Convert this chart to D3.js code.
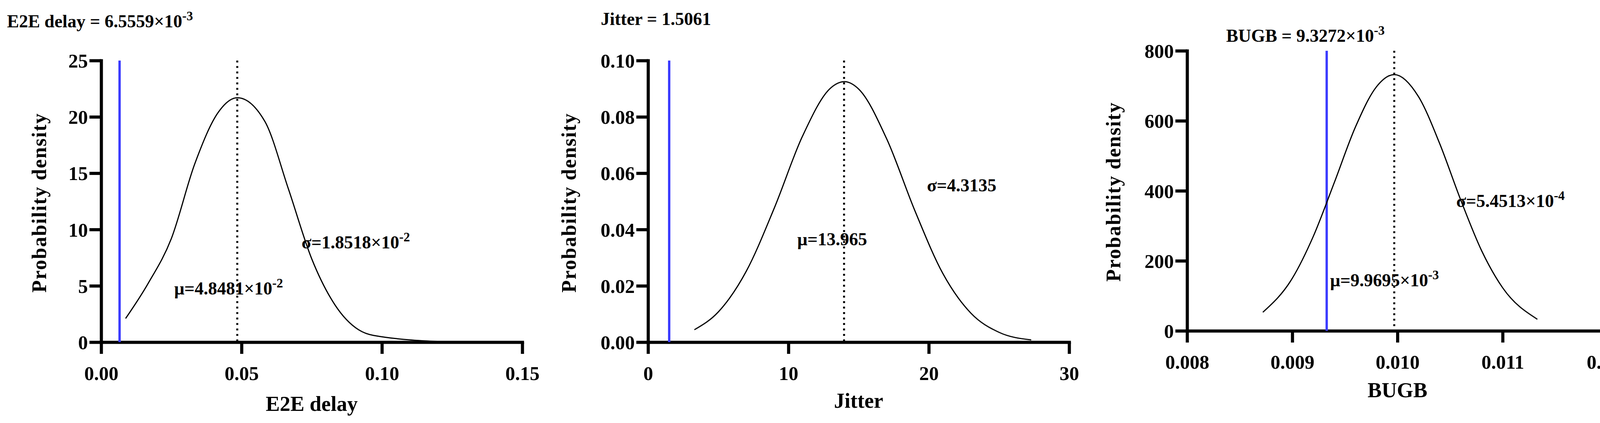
<!DOCTYPE html>
<html>
<head>
<meta charset="utf-8">
<script src="https://cdn.jsdelivr.net/npm/d3@7"></script>
<style>
  body { margin: 0; background: #fff; overflow: hidden; }
  text { font-family: "Liberation Serif", "Times New Roman", serif; font-weight: bold; fill: #000; }
</style>
</head>
<body>
<svg id="chart" width="4186" height="1083"></svg>
<script>
// values
let e2eCurve = [[0.0087,2.1],[0.0167,5.2],[0.025,9.2],[0.0333,15.8],[0.0417,20.4],[0.0485,21.7],[0.0583,19.6],[0.0667,13.6],[0.075,7.4],[0.0833,3.3],[0.0917,1.1],[0.097,0.6],[0.124,0]];
let jitterCurve = [[3.3,0.0044],[5,0.0107],[7,0.0252],[9,0.0477],[11,0.0731],[13,0.0902],[14,0.0925],[15,0.0899],[17,0.0722],[19,0.0468],[21,0.0244],[23,0.0103],[25,0.0035],[27.3,0.0008]];
let bugbCurve = [[0.00872,53],[0.0090,150],[0.0092,270],[0.0094,424],[0.0096,582],[0.0098,697],[0.00997,732],[0.0102,669],[0.0104,536],[0.0106,375],[0.0108,229],[0.0110,123],[0.01133,33]];

let e2eTicksX = [0, 0.05, 0.10, 0.15];
let e2eTicksY = [0, 5, 10, 15, 20, 25];
let jitterTicksX = [0, 10, 20, 30];
let jitterTicksY = [0, 0.02, 0.04, 0.06, 0.08, 0.10];
let bugbTicksX = [0.008, 0.009, 0.010, 0.011, 0.012];
let bugbTicksY = [0, 200, 400, 600, 800];

let svg = d3.select("#chart");

// text with optional superscript exponent
let richText = function(g, x, y, base, exp, size, anchor) {
  let t = g.append("text").attr("x", x).attr("y", y)
    .attr("font-size", size).attr("text-anchor", anchor || "start");
  t.append("tspan").text(base);
  if (exp) t.append("tspan").attr("dy", -size * 0.4).attr("font-size", size * 0.72).text(exp);
  return t;
};

let drawPanel = function(p) {
  let g = svg.append("g");
  let x = d3.scaleLinear().domain(p.xDomain).range([p.left, p.right]);
  let y = d3.scaleLinear().domain(p.yDomain).range([p.bottom, p.top]);

  let xAxis = g.append("g").attr("transform", `translate(0,${p.bottom})`)
    .call(d3.axisBottom(x).tickValues(p.xTicks).tickFormat(p.xFmt).tickSize(30).tickPadding(22).tickSizeOuter(0));
  let yAxis = g.append("g").attr("transform", `translate(${p.left},0)`)
    .call(d3.axisLeft(y).tickValues(p.yTicks).tickFormat(p.yFmt).tickSize(30).tickPadding(4).tickSizeOuter(0));
  [xAxis, yAxis].forEach(a => {
    a.attr("font-family", null);
    a.select(".domain").attr("stroke", "#000").attr("stroke-width", 8).attr("stroke-linecap", "square");
    a.selectAll(".tick line").attr("stroke", "#000").attr("stroke-width", 8);
    a.selectAll(".tick text").attr("font-size", 50).attr("fill", "#000");
  });
  xAxis.selectAll(".tick text").attr("dy", "0.9em");
  yAxis.selectAll(".tick text").attr("dy", "0.35em");

  // blue reference line
  g.append("line").attr("x1", x(p.ref)).attr("x2", x(p.ref))
    .attr("y1", y(p.yDomain[1])).attr("y2", p.bottom)
    .attr("stroke", "#3a3aff").attr("stroke-width", 6);
  // dotted mean line
  g.append("line").attr("x1", x(p.mu)).attr("x2", x(p.mu))
    .attr("y1", y(p.yDomain[1])).attr("y2", p.bottom)
    .attr("stroke", "#000").attr("stroke-width", 5).attr("stroke-dasharray", "5,9");

  let line = d3.line().x(d => x(d[0])).y(d => y(d[1])).curve(d3.curveMonotoneX);
  g.append("path").datum(p.curve).attr("d", line)
    .attr("fill", "none").attr("stroke", "#000").attr("stroke-width", 3);

  richText(g, p.titleX, p.titleY, p.title[0], p.title[1], 46);
  richText(g, p.sigX, p.sigY, p.sig[0], p.sig[1], 46);
  richText(g, p.muX, p.muY, p.muText[0], p.muText[1], 46);

  g.append("text").attr("x", (p.left + p.right) / 2).attr("y", p.xTitleY)
    .attr("text-anchor", "middle").attr("font-size", 54).text(p.xTitle);
  g.append("text").attr("transform", `translate(${p.yTitleX},${p.yTitleY}) rotate(-90)`)
    .attr("text-anchor", "middle").attr("font-size", 52).attr("letter-spacing", 2).text("Probability density");
  return xAxis;
};

drawPanel({
  xDomain: [0, 0.15], yDomain: [0, 25], left: 259, right: 1337, top: 155, bottom: 876,
  xTicks: e2eTicksX, yTicks: e2eTicksY, xFmt: d3.format(".2f"), yFmt: d3.format("d"),
  curve: e2eCurve, ref: 0.0065559, mu: 0.048481,
  title: ["E2E delay = 6.5559×10", "-3"], titleX: 18, titleY: 70,
  sig: ["σ=1.8518×10", "-2"], sigX: 772, sigY: 636,
  muText: ["μ=4.8481×10", "-2"], muX: 446, muY: 754,
  xTitle: "E2E delay", xTitleY: 1052, yTitleX: 118, yTitleY: 519
});
drawPanel({
  xDomain: [0, 30], yDomain: [0, 0.10], left: 1659, right: 2737, top: 155, bottom: 876,
  xTicks: jitterTicksX, yTicks: jitterTicksY, xFmt: d3.format("d"), yFmt: d3.format(".2f"),
  curve: jitterCurve, ref: 1.5061, mu: 13.965,
  title: ["Jitter = 1.5061", null], titleX: 1538, titleY: 64,
  sig: ["σ=4.3135", null], sigX: 2373, sigY: 490,
  muText: ["μ=13.965", null], muX: 2041, muY: 628,
  xTitle: "Jitter", xTitleY: 1044, yTitleX: 1474, yTitleY: 519
});
let bugbAxis = drawPanel({
  xDomain: [0.008, 0.012], yDomain: [0, 800], left: 3039, right: 4116, top: 130, bottom: 847,
  xTicks: bugbTicksX, yTicks: bugbTicksY, xFmt: d3.format(".3f"), yFmt: d3.format("d"),
  curve: bugbCurve, ref: 0.0093272, mu: 0.0099695,
  title: ["BUGB = 9.3272×10", "-3"], titleX: 3139, titleY: 107,
  sig: ["σ=5.4513×10", "-4"], sigX: 3728, sigY: 530,
  muText: ["μ=9.9695×10", "-3"], muX: 3405, muY: 733,
  xTitle: "BUGB", xTitleY: 1017, yTitleX: 2868, yTitleY: 491
});
// keep the last tick label inside the frame
bugbAxis.selectAll(".tick text").filter(d => d === 0.012).attr("text-anchor", "end").attr("dx", 58);
</script>
</body>
</html>
